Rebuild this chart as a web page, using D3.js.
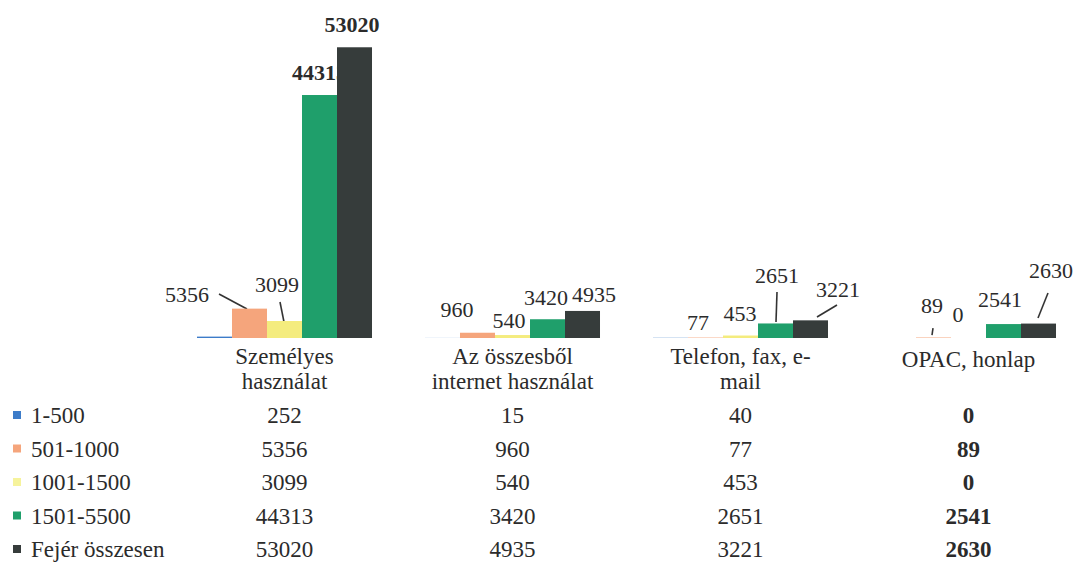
<!DOCTYPE html>
<html>
<head>
<meta charset="utf-8">
<script src="https://cdn.jsdelivr.net/npm/d3@7"></script>
<style>
  html, body { margin: 0; padding: 0; background: #fff; }
  svg { display: block; }
</style>
</head>
<body>
<svg id="chart" width="1080" height="563"></svg>
<script>
// ---- data ----
const categories = [["Személyes", "használat"], ["Az összesből", "internet használat"], ["Telefon, fax, e-", "mail"], ["OPAC, honlap"]];
const seriesNames = ["1-500", "501-1000", "1001-1500", "1501-5500", "Fejér összesen"];
const s1_500 = [252, 15, 40, 0];
const s501_1000 = [5356, 960, 77, 89];
const s1001_1500 = [3099, 540, 453, 0];
const s1501_5500 = [44313, 3420, 2651, 2541];
const sFejer = [53020, 4935, 3221, 2630];
const seriesValues = [s1_500, s501_1000, s1001_1500, s1501_5500, sFejer];
const showLabel = [false, true, true, true, true];

// ---- styling / layout ----
const FONT = '"Liberation Serif"';
const TXT = "#2b2b2b";
const colors = ["#3d7cc9", "#f5a57c", "#f4ec7e", "#1f9f6b", "#363c3b"];
const legendColors = ["#3d7cc9", "#f5a57c", "#f6f39c", "#1f9f6b", "#363c3b"];
// label offsets relative to bar centre / bar top: [dx, dy, leader?]
const labelLayout = [
  null,
  [[-62.5, -6.6, [-30.5, -14.6, -2.5, 0.4]], [-20.5, -15.7], [-7.5, -7.6], [-1.5, -24.5, [-0.5, -9.5, -1.5, -2.5]]],
  [[-7.5, -29, [-4.5, -19, -0.5, 1]], [-3.5, -7], [-0.5, -14.5], [-10.5, -16]],
  [[0, -15], [-1.5, -14], [1.5, -40.4, [1.5, -31.4, 0.5, -1.4]], [-3.5, -17]],
  [[-2.5, -15], [11.5, -9], [27.5, -23.3, [26.5, -15.3, 6.5, -3.3]], [12.5, -45.6, [9.5, -30.6, -0.5, -5.6]]]
];
const boldLabels = [[3, 0], [4, 0]];

const svg = d3.select("#chart");
const x0 = d3.scaleBand().domain(d3.range(categories.length)).range([170.5, 1082.5]).padding(0);
const x1 = d3.scaleBand().domain(d3.range(seriesNames.length)).range([0, x0.bandwidth()]).paddingOuter(0.757).paddingInner(0);
const y = d3.scaleLinear().domain([0, 60000]).range([338, 9]);
const fsLabel = 22;
const fsText = 23;

function addText(g, x, yy, str, opts = {}) {
  return g.append("text")
    .attr("x", x).attr("y", yy)
    .attr("text-anchor", opts.anchor || "middle")
    .style("font-family", FONT)
    .style("font-size", (opts.size || fsText) + "px")
    .style("font-weight", opts.bold ? 700 : 400)
    .style("fill", TXT)
    .text(String(str));
}

// ---- data labels (drawn first so the dark bar hides the end of 44313, as in original) ----
const labG = svg.append("g");
seriesValues.forEach((vals, si) => {
  if (!showLabel[si]) return;
  vals.forEach((v, ci) => {
    const cx = x0(ci) + x1(si) + x1.bandwidth() / 2;
    const top = y(v);
    const L = labelLayout[si][ci];
    const bold = boldLabels.some(b => b[0] === si && b[1] === ci);
    addText(labG, cx + L[0], top + L[1], v, { bold, size: fsLabel });
    if (L[2]) {
      labG.append("line")
        .attr("x1", cx + L[2][0]).attr("y1", top + L[2][1])
        .attr("x2", cx + L[2][2]).attr("y2", top + L[2][3])
        .attr("stroke", "#333").attr("stroke-width", 1.6);
    }
  });
});

// ---- bars ----
const barG = svg.append("g");
seriesValues.forEach((vals, si) => {
  barG.selectAll(null).data(vals).enter().append("rect")
    .attr("x", (d, ci) => x0(ci) + x1(si))
    .attr("y", d => y(d))
    .attr("width", x1.bandwidth())
    .attr("height", d => y(0) - y(d))
    .attr("fill", colors[si]);
});

// ---- category labels ----
const catG = svg.append("g");
categories.forEach((lines, ci) => {
  const cx = x0(ci) + x0.bandwidth() / 2;
  lines.forEach((ln, li) => {
    addText(catG, cx, lines.length === 1 ? 367 : 364 + li * 25, ln);
  });
});

// ---- data table with legend keys ----
const tabG = svg.append("g");
seriesNames.forEach((name, si) => {
  const base = 423 + si * 33.5;
  tabG.append("rect").attr("x", 13).attr("y", base - 12).attr("width", 8).attr("height", 8).attr("fill", legendColors[si]);
  addText(tabG, 31, base, name, { anchor: "start" });
  seriesValues[si].forEach((v, ci) => {
    addText(tabG, x0(ci) + x0.bandwidth() / 2, base, v, { bold: ci === 3 });
  });
});
</script>
</body>
</html>
